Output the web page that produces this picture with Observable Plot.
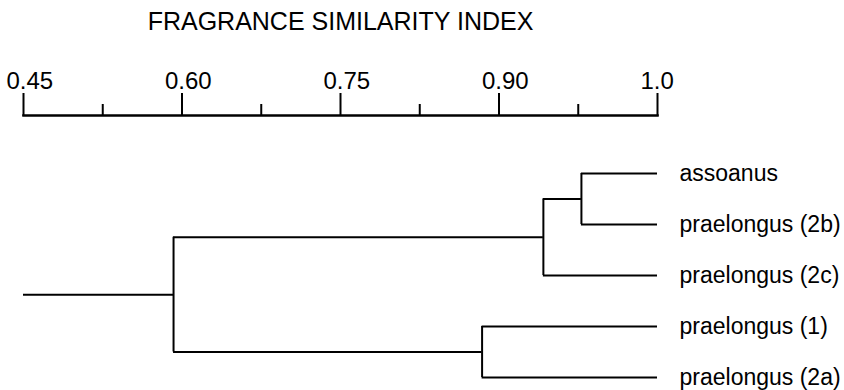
<!DOCTYPE html>
<html><head><meta charset="utf-8">
<script src="https://cdn.jsdelivr.net/npm/d3@7"></script>
<script src="https://cdn.jsdelivr.net/npm/@observablehq/plot@0.6"></script>
<style>body{margin:0;background:#fff}</style>
</head><body><div id="chart"></div>
<script>
// Leaves, top to bottom
const leaves = ["assoanus", "praelongus (2b)", "praelongus (2c)", "praelongus (1)", "praelongus (2a)"];
const leafSimilarity = 1.0;
// Clusters (merge order), their two children, and the similarity at which they join
const clusterNames = ["A", "B", "C", "root"];
const clusterLeft = ["assoanus", "A", "praelongus (1)", "B"];
const clusterRight = ["praelongus (2b)", "praelongus (2c)", "praelongus (2a)", "C"];
const clusterSimilarity = [0.952, 0.928, 0.884, 0.592];
const axisStart = 0.45;
// Axis
const majorTicks = [0.45, 0.60, 0.75, 0.90, 1.0];
const majorTickLabels = ["0.45", "0.60", "0.75", "0.90", "1.0"];
const minorTicks = [0.525, 0.675, 0.825, 0.95];
const axisTitle = "FRAGRANCE SIMILARITY INDEX";

// Build dendrogram segments
const node = new Map();
leaves.forEach((name, i) => node.set(name, {x: leafSimilarity, y: i}));
const verticals = [], horizontals = [];
clusterNames.forEach((name, i) => {
  const a = node.get(clusterLeft[i]), b = node.get(clusterRight[i]);
  const s = clusterSimilarity[i];
  horizontals.push({x1: s, x2: a.x, y: a.y}, {x1: s, x2: b.x, y: b.y});
  verticals.push({x: s, y1: a.y, y2: b.y});
  node.set(name, {x: s, y: (a.y + b.y) / 2});
});
const root = node.get("root");
horizontals.push({x1: axisStart, x2: root.x, y: root.y});

const chart = Plot.plot({
  width: 844, height: 390,
  marginLeft: 23, marginRight: 187, marginTop: 115, marginBottom: 0,
  style: {fontFamily: "'Liberation Sans', Arial, sans-serif", background: "#fff", color: "#000"},
  x: {type: "linear", domain: majorTicks, axis: null},
  y: {domain: [0, leaves.length - 1], reverse: true, insetTop: 58, insetBottom: 13, axis: null},
  marks: [
    Plot.axisX(minorTicks, {anchor: "top", tickSize: 12, strokeWidth: 2, text: null, label: null}),
    Plot.axisX(majorTicks, {anchor: "top", tickSize: 23, strokeWidth: 2, text: null, label: null}),
    Plot.axisX(majorTicks, {anchor: "top", tickSize: 0, tickPadding: 27, fontSize: 24,
      textAnchor: "start", dx: -17,
      tickFormat: d => majorTickLabels[majorTicks.indexOf(d)], label: null}),
    Plot.text([axisTitle], {frameAnchor: "top", dy: -86, lineAnchor: "bottom", fontSize: 25, text: d => d}),
    Plot.frame({anchor: "top", strokeWidth: 2.5}),
    Plot.ruleY(horizontals, {x1: "x1", x2: "x2", y: "y", strokeWidth: 2}),
    Plot.ruleX(verticals, {x: "x", y1: "y1", y2: "y2", strokeWidth: 2}),
    Plot.text(leaves, {x: leafSimilarity, y: (d, i) => i, text: d => d, textAnchor: "start", dx: 22, fontSize: 23})
  ]
});
document.getElementById("chart").appendChild(chart);
</script>
</body></html>
